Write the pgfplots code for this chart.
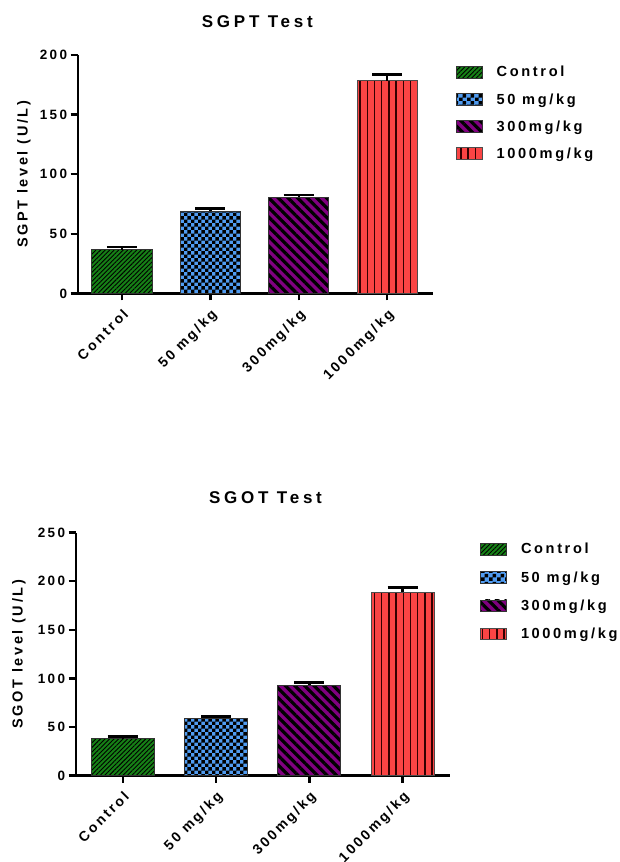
\documentclass[border=0pt]{standalone}
\usepackage{pgfplots}
\pgfplotsset{compat=1.18}
\usepackage{fontspec}
\setmainfont{Liberation Sans}
\usetikzlibrary{patterns,patterns.meta}
\newfontfamily\lsA{Liberation Sans}[LetterSpace=18]
\newfontfamily\lsT{Liberation Sans}[LetterSpace=22]
\newcommand\tickfont{\lsA\bfseries\fontsize{13.5}{16}\selectfont}
\newcommand\xfont{\lsA\bfseries\fontsize{14}{16}\selectfont}
\newcommand\labfont{\lsA\bfseries\fontsize{14.5}{17}\selectfont}
\newcommand\legfont{\lsA\bfseries\fontsize{14.6}{17}\selectfont}
\newcommand\titlefont{\lsT\bfseries\fontsize{17}{20}\selectfont}
\definecolor{cgreen}{RGB}{22,128,22}
\definecolor{cblue}{RGB}{80,155,240}
\definecolor{cpurple}{RGB}{128,0,128}
\definecolor{cred}{RGB}{250,68,68}
\pgfdeclarepatternformonly{checker}{\pgfpointorigin}{\pgfqpoint{7.4pt}{7.4pt}}{\pgfqpoint{7.4pt}{7.4pt}}{%
  \pgfpathrectangle{\pgfpointorigin}{\pgfqpoint{3.7pt}{3.7pt}}%
  \pgfpathrectangle{\pgfqpoint{3.7pt}{3.7pt}}{\pgfqpoint{3.7pt}{3.7pt}}%
  \pgfusepath{fill}}
\pgfplotsset{
  errs/.style={
    error bars/y dir=plus, error bars/y explicit,
    error bars/error bar style={line width=2.4pt, black},
    error bars/error mark options={rotate=90, mark size=15pt, line width=2.7pt, black}},
  sgreen/.style={ybar, fill=cgreen, draw=black!80, line width=0.8pt,
    postaction={pattern={Lines[angle=45,distance=3.2pt,line width=0.9pt]}, pattern color=black}},
  sblue/.style={ybar, fill=cblue, draw=black!80, line width=0.8pt,
    postaction={pattern=checker, pattern color=black}},
  spurple/.style={ybar, fill=cpurple, draw=black!80, line width=0.8pt,
    postaction={pattern={Lines[angle=-45,distance=6.8pt,line width=3.2pt]}, pattern color=black}},
  sred/.style={ybar, fill=cred, draw=black!70, line width=0.8pt,
    postaction={pattern={Lines[angle=90,distance=7.2pt,line width=1.4pt]}, pattern color=black!80!red}},
  mychart/.style={
    scale only axis,
    axis x line*=bottom, axis y line*=left,
    axis line style={-, line width=2.4pt},
    tick align=outside,
    major tick length=7pt,
    tick style={line width=2.4pt, black},
    xtick={0,1,2,3},
    xticklabels={Control,50 mg/kg,300mg/kg,1000mg/kg},
    xticklabel shift=6pt,
    x tick label style={rotate=45, anchor=north east, font=\xfont, inner sep=1pt},
    y tick label style={font=\tickfont, /pgf/number format/assume math mode=true},
    ymin=0,
    legend cell align=left,
    legend image code/.code={\draw[##1] (0pt,-5.6pt) rectangle (26pt,6pt);},
    title style={font=\titlefont, anchor=base},
    ylabel style={font=\labfont, anchor=center},
  }
}
\begin{document}
\begin{tikzpicture}
\path[use as bounding box] (0,0) rectangle (620pt,862pt);
% ---------- SGPT ----------
\begin{axis}[mychart,
  at={(77.7pt,568.5pt)}, anchor=south west,
  width=355pt, height=238.5pt,
  xmin=-0.5, xmax=3.515, ymax=200,
  ytick={0,50,100,150,200},
  title={SGPT Test},
  title style={at={(axis description cs:0.506,1)}, yshift=21.7pt},
  ylabel={SGPT level (U/L)},
  ylabel style={at={(axis description cs:-0.1513,0.5)}},
  legend style={draw=none, fill=none, at={(rel axis cs:1,1)}, anchor=north west,
    xshift=23pt, yshift=-9.8pt, inner sep=0pt, row sep=12.1pt,
    nodes={inner xsep=0pt, inner ysep=0pt, text height=12pt, text depth=3pt, font=\legfont},
    /tikz/every odd column/.append style={column sep=14pt}},
]
\addplot[sgreen, bar width=0.68, errs] coordinates {(0,36.6) +- (0,2.3)};
\addplot[sblue, bar width=0.68, errs] coordinates {(1,68.8) +- (0,2.2)};
\addplot[spurple, bar width=0.68, errs] coordinates {(2,80.6) +- (0,1.9)};
\addplot[sred, bar width=0.68, errs] coordinates {(3,178.5) +- (0,5.0)};
\legend{Control,50 mg/kg,300mg/kg,1000mg/kg}
\end{axis}
% ---------- SGOT ----------
\begin{axis}[mychart,
  at={(75.7pt,86.3pt)}, anchor=south west,
  width=374.3pt, height=243pt,
  xmin=-0.504, xmax=3.508, ymax=250,
  ytick={0,50,100,150,200,250},
  title={SGOT Test},
  title style={at={(axis description cs:0.507,1)}, yshift=23pt},
  ylabel={SGOT level (U/L)},
  ylabel style={at={(axis description cs:-0.1515,0.5)}},
  legend style={draw=none, fill=none, at={(rel axis cs:1,1)}, anchor=north west,
    xshift=30pt, yshift=-9pt, inner sep=0pt, row sep=13.3pt,
    nodes={inner xsep=0pt, inner ysep=0pt, text height=12pt, text depth=3pt, font=\legfont},
    /tikz/every odd column/.append style={column sep=14pt}},
]
\addplot[sgreen, bar width=0.675, errs] coordinates {(0,38.2) +- (0,2.0)};
\addplot[sblue, bar width=0.675, errs] coordinates {(1,59.0) +- (0,1.7)};
\addplot[spurple, bar width=0.675, errs] coordinates {(2,92.8) +- (0,3.4)};
\addplot[sred, bar width=0.675, errs] coordinates {(3,188.9) +- (0,5.0)};
\legend{Control,50 mg/kg,300mg/kg,1000mg/kg}
\end{axis}
\end{tikzpicture}
\end{document}
